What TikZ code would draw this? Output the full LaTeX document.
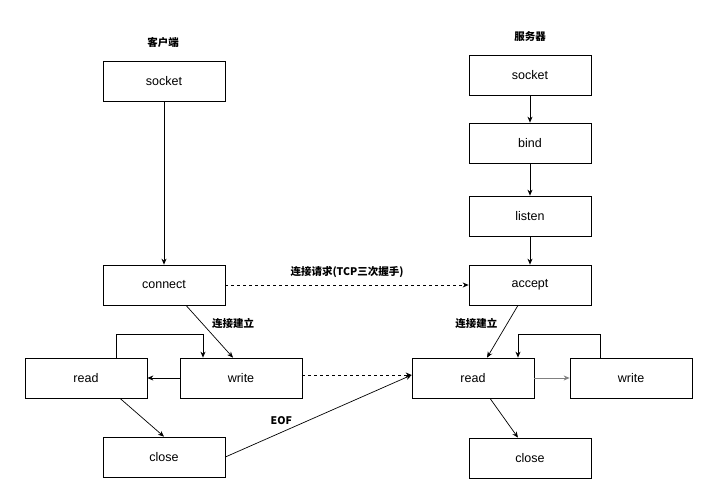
\documentclass[tikz,border=0pt]{standalone}
\usepackage{fontspec}
\setmainfont{Liberation Sans}
\newfontfamily\cjk{Noto Sans CJK SC}
\usetikzlibrary{arrows.meta,calc}
\begin{document}
\begin{tikzpicture}[x=1pt,y=-1pt,
  box/.style={draw,line width=0.7pt,minimum width=122pt,minimum height=40pt,font=\fontsize{12.5}{14}\selectfont},
  lab/.style={font=\cjk\bfseries\fontsize{10.5}{12}\selectfont},
  arr/.style={-{Stealth[length=6pt,width=5pt]},line width=0.7pt},
  darr/.style={arr,dashed}]
\useasboundingbox (0,0) rectangle (706,500);
\node[lab] (ct) at (163,42) {客户端};
\node[lab] (st) at (530,37) {服务器};
\node[box] (cs) at (164,81) {socket};
\node[box] (cc) at (164,285) {connect};
\node[box] (cr) at (86,378) {read};
\node[box] (cw) at (241,378) {write};
\node[box] (cl) at (164,457) {close};
\node[box] (ss) at (530,75) {socket};
\node[box] (sb) at (530,143) {bind};
\node[box] (sl) at (530,216) {listen};
\node[box] (sa) at (530,285) {accept};
\node[box] (sr) at (473,378) {read};
\node[box] (sw) at (631,378) {write};
\node[box] (sc) at (530,458) {close};
\draw[arr] (cs) -- (cc);
\draw[arr] (ss) -- (sb);
\draw[arr] (sb) -- (sl);
\draw[arr] (sl) -- (sa);
\draw[darr] (cc) -- node[lab,above=4pt] {连接请求(TCP三次握手)} (sa);
\draw[arr] ($(cc.south)+(22,0)$) coordinate (c1) -- node[lab,right=6pt,pos=0.35] {连接建立} ($(cw.north)+(-8,0)$) coordinate (c2);
\draw[arr] (cw) -- (cr);
\draw[arr] ($(cr.north)+(30,0)$) coordinate (c3) -- ++(0,-23) -| ($(cw.north)+(-38,0)$) coordinate (c4);
\draw[arr] ($(cr.south)+(34,0)$) coordinate (c5) -- (cl.north);
\draw[arr] (cl.east) -- node[lab,above=4pt,pos=0.3] {EOF} ($(sr.west)+(0,-3)$) coordinate (c7);
\draw[darr] ($(cw.east)+(0,-3)$) coordinate (c8) -- (c7);
\draw[arr] ($(sa.south)+(-12,0)$) coordinate (c9) -- node[lab,left=6pt,pos=0.35] {连接建立} ($(sr.north)+(14,0)$) coordinate (c10);
\draw[arr,gray] (sr) -- (sw);
\draw[arr] ($(sw.north)+(-31,0)$) coordinate (c11) -- ++(0,-23) -| ($(sr.north)+(45,0)$) coordinate (c12);
\draw[arr] ($(sr.south)+(17,0)$) coordinate (c13) -- ($(sc.north)+(-12,0)$) coordinate (c14);
\end{tikzpicture}
\end{document}
